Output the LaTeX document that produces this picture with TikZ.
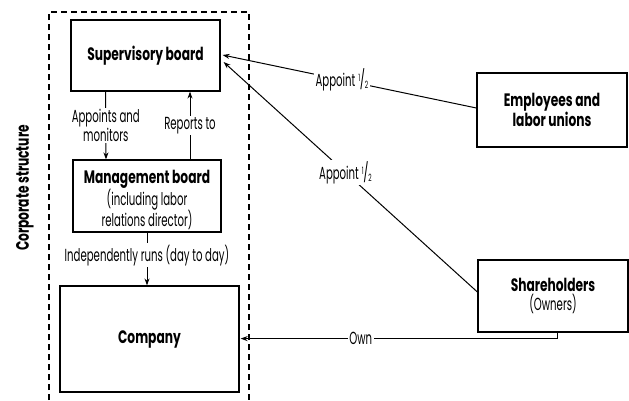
\documentclass[tikz,border=0pt]{standalone}
\usepackage{fontspec}
\setmainfont{Poppins}[FakeStretch=0.58]
\newfontfamily\headfam{Poppins}[FakeStretch=0.68]
\usetikzlibrary{calc,arrows.meta}
\newcommand\headfont{\headfam\bfseries\fontsize{18}{19}\selectfont}
\newcommand\bodyfont{\normalfont\fontsize{17.5}{19}\selectfont}
\tikzset{
  box/.style={draw, line width=1.2pt, align=center, inner sep=0pt},
  title/.style={font=\headfont},
  lab/.style={font=\bodyfont, fill=white, inner sep=1.5pt, align=center},
  link/.style={line width=1pt},
  arr/.style={link, -{Stealth[length=7pt,width=5pt]}},
}
\begin{document}
\begin{tikzpicture}[x=1pt,y=-1pt]
\useasboundingbox (0,0) rectangle (629,400);
% corporate structure frame
\draw[line width=1.2pt, dash pattern=on 6pt off 4pt] (49,400) -- (49,12) -- (249,12) -- (249,400);
\node[title, rotate=90] (cs) at (25,188) {Corporate structure};

% boxes
\node[box, title, minimum width=149pt, minimum height=71pt] (sup) at (145.5,55.5) {Supervisory board};
\node[box, minimum width=148pt, minimum height=72pt] (mgmt) at (147,196)
  {\raisebox{-4pt}[\height][\depth]{\begin{tabular}{@{}c@{}}
   {\headfont Management board}\\[2pt]
   {\bodyfont (including labor}\\
   {\bodyfont relations director)}\end{tabular}}};
\node[box, title, minimum width=179pt, minimum height=106pt] (comp) at (149.5,339) {Company};
\node[box, title, minimum width=150pt, minimum height=74pt] (emp) at (552,110) {Employees and\\labor unions};
\node[box, minimum width=150pt, minimum height=72pt] (sh) at (553,296)
  {{\headfont Shareholders}\\[1pt]
   {\bodyfont (Owners)}};

% internal relations
\draw[arr] ($(sup.south)+(-40,0)$) -- ($(mgmt.north)+(-41,0)$)
  node[lab, midway] {Appoints and\\monitors};
\draw[arr] ($(mgmt.north)+(43,0)$) -- ($(sup.south)+(44.5,0)$)
  node[lab, midway] {Reports to};
\draw[arr] (mgmt.south) -- (mgmt.south |- comp.north)
  node[lab, pos=0.43] {Independently runs (day to day)};

% appointments to the supervisory board
\newcommand\halfof{Appoint\,\raisebox{5pt}{\fontsize{10}{10}\selectfont 1}\kern-0.3pt{\fontsize{19}{19}\selectfont/}\kern-0.3pt\raisebox{-2pt}{\fontsize{10}{10}\selectfont 2}}
\draw[arr] ($(emp.west)+(0,-2)$) -- ($(sup.east)+(2,-0.5)$)
  node[lab, pos=0.53] {\halfof};
\draw[arr] ($(sh.west)+(0,-4)$) -- ($(sup.east)+(3,6.5)$)
  node[lab, pos=0.52] {\halfof};

% ownership
\draw[arr] ($(sh.south)+(4,0)$) -- ++(0,6) coordinate (own) -- ($(own -| comp.east)+(1,0)$)
  node[lab, pos=0.62] {Own};
\end{tikzpicture}
\end{document}
